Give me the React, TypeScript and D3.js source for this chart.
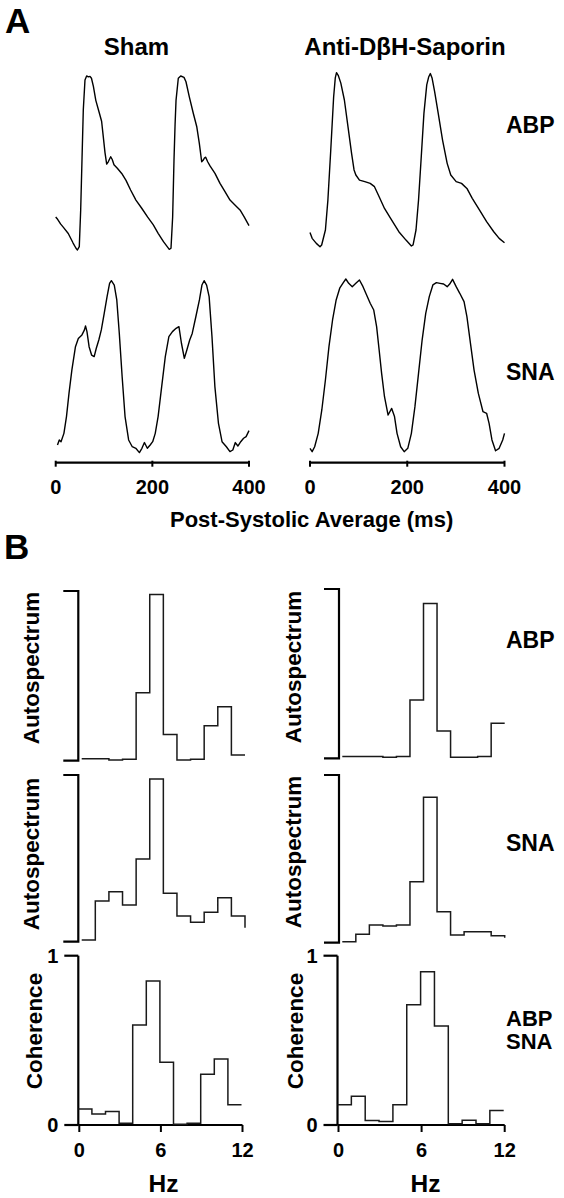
import React from 'react';
import * as d3 from 'd3';

// ---------- Panel A: post-systolic averaged traces (t in ms, arbitrary units 0-100) ----------
const shamABP: [number, number][] = [
  [0, 19], [3, 18], [10, 15], [16, 13], [26, 9.5], [36, 4], [42, 1], [45, 0], [48.8, 1.9], [51.7, 23],
  [54.4, 51.7], [57.1, 80.5], [60.6, 97.7], [64, 100], [68, 99.5], [71, 99.8], [74, 98.7], [78, 94],
  [83, 86], [90, 79], [95, 74], [98.5, 65], [102, 56], [105.5, 49.4], [108.8, 50.7], [111, 52],
  [113.8, 53.6], [117, 52], [120.6, 49], [127.5, 47], [136.6, 44], [145.5, 40], [155, 34.5],
  [166, 28.7], [178, 24], [190, 19], [202, 14.4], [212, 9.6], [223, 4.8], [235, 0.4], [238.6, 1],
  [242, 19], [244.8, 51.7], [247, 72], [249, 86], [253.7, 98.7], [258.7, 100], [265.5, 99.2],
  [269.6, 96.7], [276.5, 88], [284.7, 78.6], [291.8, 71], [297.2, 61.3], [302.1, 50.7], [305.4, 51.7],
  [308, 53], [310.4, 53.3], [314.5, 50.7], [319.3, 48.3], [329.6, 44], [340, 38.3], [350.3, 33.5],
  [360.7, 28.7], [374.5, 24.9], [381.4, 23], [390, 19], [400, 14],
];

const dbhABP: [number, number][] = [
  [0, 8.2], [4.4, 4.8], [13, 1.9], [20.6, 0], [24, 1], [31.7, 9.6], [36.8, 26.8], [42.7, 55.6],
  [48.6, 86], [52, 97], [54.5, 100], [58, 98.5], [63.4, 94], [70.7, 84.3], [78.1, 69], [85.5, 53.6],
  [90.6, 44.1], [94.3, 41.2], [101.7, 38.3], [112.7, 37.4], [123.8, 36.4], [132.6, 34.5], [142.2, 28.7],
  [153.2, 22], [168, 15.3], [182.7, 8.6], [197.4, 3.8], [208.5, 0.4], [212, 1], [218, 9.6],
  [223.2, 26.8], [228.4, 49.8], [234.3, 76.6], [240.1, 93], [244, 97.5], [247.5, 99.5], [251, 97],
  [256.4, 89], [263.7, 76.6], [272.6, 61.3], [282.1, 47.9], [289.5, 41.2], [300.6, 37.4],
  [311.6, 36.4], [322.7, 33.5], [333.7, 27.8], [348.4, 21.1], [363.2, 14.4], [377.9, 8.6],
  [389, 4.8], [400, 2.3],
];

const shamSNA: [number, number][] = [
  [3.7, 4.8], [7.4, 7.7], [11, 6.7], [17, 11.5], [22.3, 21.2], [27.5, 34.6], [33.5, 48.1], [40.9, 61.5],
  [46.8, 66.3], [54.3, 68.3], [59.5, 71.2], [61.7, 73.5], [64.7, 70.2], [69.1, 61.5], [74.3, 56.7],
  [79.6, 55.8], [84, 60.6], [89.2, 65.4], [94.4, 71.2], [100.4, 80.8], [106.3, 90.4], [111.5, 98.1],
  [115.2, 99.6], [121.2, 97.1], [126.4, 88.5], [131.6, 69.2], [137.5, 44.2], [143.5, 21.2],
  [150.9, 7.7], [158.4, 3.8], [165.8, 2.9], [173.2, 0.4], [178.4, 2.9], [183.6, 6.2], [189.6, 2.9],
  [195.5, 4.8], [200.7, 6.7], [206, 11.5], [211.9, 21.2], [219.3, 38.5], [226.8, 55.8], [234.2, 67.3],
  [241.6, 70.2], [249.1, 72.1], [255, 73.1], [260.2, 63.5], [266.2, 54.8], [271.4, 59.6],
  [277.3, 65.4], [282.5, 69.2], [290, 78.8], [297.4, 88.5], [302.6, 97.1], [307.1, 99.6],
  [312.3, 97.1], [317.5, 90.4], [323.4, 67.3], [329.4, 38.5], [336.8, 17.3], [344.2, 6.7],
  [353.2, 3.8], [360.6, 1], [366.5, 1.9], [371.7, 6.2], [377, 4.2], [382.9, 6.7], [388.8, 8.7],
  [394, 9.6], [400, 13.1],
];

const dbhSNA: [number, number][] = [
  [0, 2.5], [4.4, 0.6], [9.6, 3.4], [16.9, 11.1], [24.3, 24.5], [31.7, 41.7], [39, 60.8], [46.4, 76.1],
  [53.8, 87.6], [61.1, 94.3], [68.5, 97.5], [73.7, 99.6], [79.6, 97.1], [86.9, 95.2], [94.3, 97.1],
  [101.7, 99], [109, 95.2], [116.4, 90.4], [123.8, 85.7], [131.1, 81.8], [137, 72.3], [142.2, 58.9],
  [147.3, 45.5], [153.2, 32.1], [160.6, 21.6], [168, 25.4], [173.8, 20.7], [179, 11.1], [186.4, 3.4],
  [193.7, 0.6], [201.1, 2.5], [208.5, 11.1], [215.8, 26.4], [223.2, 45.5], [230.6, 64.6], [238, 79.9],
  [245.3, 89.5], [252.7, 96.2], [260, 97.5], [267.4, 97.1], [274.8, 96.7], [282.1, 95.2],
  [287.3, 96.7], [293.2, 99.4], [300.6, 95.2], [308, 91.4], [316.8, 86.6], [322.7, 78], [330, 62.7],
  [337.4, 47.4], [346.2, 34], [355.8, 23.5], [363.2, 22.6], [368.3, 16.8], [374.2, 7.3], [381.6, 1.1],
  [389, 2.5], [396.3, 7.3], [400, 11.1],
];

const msTicks = [0, 200, 400];

// ---------- Panel B: spectra, 1-Hz bins from 0 to 12 Hz ----------
const freqEdges = [0, 1, 2, 3, 4, 5, 6, 7, 8, 9, 10, 11, 12];
const shamAbpSpec = [0.012, 0.012, 0.004, 0.008, 0.401, 0.98, 0.155, 0.004, 0.008, 0.206, 0.318, 0.033];
const shamAbpEnd = 0.033;
const shamSnaSpec = [0.01, 0.244, 0.3, 0.22, 0.496, 0.976, 0.29, 0.154, 0.116, 0.176, 0.264, 0.154];
const shamSnaEnd = 0.084;
const shamCoh = [0.094, 0.065, 0.08, 0.01, 0.59, 0.85, 0.37, 0.004, 0.01, 0.3, 0.39, 0.12];
const shamCohEnd = 0.12;
const dbhAbpSpec = [0.01, 0.01, 0.01, 0.006, 0.01, 0.344, 0.915, 0.161, 0.006, 0.006, 0.01, 0.207];
const dbhAbpEnd = 0.207;
const dbhSnaSpec = [0.006, 0.05, 0.105, 0.099, 0.105, 0.364, 0.867, 0.185, 0.046, 0.066, 0.066, 0.042];
const dbhSnaEnd = 0.03;
const dbhCoh = [0.12, 0.17, 0.026, 0.02, 0.12, 0.71, 0.905, 0.585, 0.008, 0.028, 0.008, 0.085];
const dbhCohEnd = 0.085;

const hzTicks = [0, 6, 12];
const cohTicks = [0, 1];

const FONT = "'Liberation Sans', Arial, Helvetica, sans-serif";

type Scale = d3.ScaleLinear<number, number>;

function Trace({ data, x, y }: { data: [number, number][]; x: Scale; y: Scale }) {
  const line = d3
    .line<[number, number]>()
    .x((d) => x(d[0]))
    .y((d) => y(d[1]))
    .curve(d3.curveLinear);
  return <path d={line(data) || ''} fill="none" stroke="#000" strokeWidth={1.4} strokeLinejoin="round" />;
}

function Hist({ values, end, x, y }: { values: number[]; end: number; x: Scale; y: Scale }) {
  const pts: [number, number][] = values.map((v, i) => [freqEdges[i], v]);
  pts.push([freqEdges[freqEdges.length - 1], end]);
  const line = d3
    .line<[number, number]>()
    .x((d) => x(d[0]))
    .y((d) => y(d[1]))
    .curve(d3.curveStepAfter);
  return <path d={line(pts) || ''} fill="none" stroke="#1a1a1a" strokeWidth={1.5} />;
}

function MsAxis({ x, yPos }: { x: Scale; yPos: number }) {
  return (
    <g>
      <line x1={x(0)} x2={x(400)} y1={yPos} y2={yPos} stroke="#000" strokeWidth={2.2} />
      {msTicks.map((t) => (
        <g key={t}>
          <line x1={x(t)} x2={x(t)} y1={yPos - 2} y2={yPos + 4} stroke="#000" strokeWidth={2} />
          <text x={x(t)} y={494} textAnchor="middle" fontSize={20} fontWeight="bold" fontFamily={FONT}>
            {t}
          </text>
        </g>
      ))}
    </g>
  );
}

function Bracket({ xPos, y }: { xPos: number; y: Scale }) {
  const top = y(1);
  const bot = y(0);
  return (
    <path
      d={`M${xPos - 15},${top} H${xPos} V${bot} H${xPos - 15}`}
      fill="none"
      stroke="#000"
      strokeWidth={2.2}
    />
  );
}

function CohAxes({ x, y, axisX }: { x: Scale; y: Scale; axisX: number }) {
  return (
    <g>
      <line x1={axisX} x2={axisX} y1={y(1)} y2={y(0)} stroke="#000" strokeWidth={2.2} />
      {cohTicks.map((t) => (
        <g key={t}>
          <line x1={axisX - 14} x2={axisX} y1={y(t)} y2={y(t)} stroke="#000" strokeWidth={2.2} />
          <text
            x={axisX - 20}
            y={y(t)}
            dy="0.36em"
            textAnchor="end"
            fontSize={20}
            fontWeight="bold"
            fontFamily={FONT}
          >
            {t}
          </text>
        </g>
      ))}
      <line x1={axisX} x2={x(12) + 1} y1={y(0)} y2={y(0)} stroke="#000" strokeWidth={2.2} />
      {hzTicks.map((t) => (
        <g key={t}>
          <line x1={x(t) + 1} x2={x(t) + 1} y1={y(0)} y2={y(0) + 7} stroke="#000" strokeWidth={2} />
          <text x={x(t) + 1} y={1157} textAnchor="middle" fontSize={20} fontWeight="bold" fontFamily={FONT}>
            {t}
          </text>
        </g>
      ))}
    </g>
  );
}

function VLabel({ x, y, text }: { x: number; y: number; text: string }) {
  return (
    <text
      transform={`translate(${x},${y}) rotate(-90)`}
      textAnchor="middle"
      fontSize={22.5}
      fontWeight="bold"
      fontFamily={FONT}
    >
      {text}
    </text>
  );
}

function Label({ x, y, text, size = 23, anchor = 'start' }: { x: number; y: number; text: string; size?: number; anchor?: string }) {
  return (
    <text x={x} y={y} fontSize={size} fontWeight="bold" fontFamily={FONT} textAnchor={anchor as any}>
      {text}
    </text>
  );
}

export default function App() {
  // Panel A scales
  const xL = d3.scaleLinear().domain([0, 400]).range([55.7, 249]);
  const xR = d3.scaleLinear().domain([0, 400]).range([310, 504.5]);
  const yAbpL = d3.scaleLinear().domain([0, 100]).range([250, 76]);
  const yAbpR = d3.scaleLinear().domain([0, 100]).range([246.7, 72.7]);
  const ySnaL = d3.scaleLinear().domain([0, 100]).range([453.3, 280]);
  const ySnaR = d3.scaleLinear().domain([0, 100]).range([452.7, 278.3]);

  // Panel B scales
  const xSpecL = d3.scaleLinear().domain([0, 12]).range([81.7, 245]);
  const xSpecR = d3.scaleLinear().domain([0, 12]).range([342.3, 504.7]);
  const xCohL = d3.scaleLinear().domain([0, 12]).range([78.3, 241.5]);
  const xCohR = d3.scaleLinear().domain([0, 12]).range([337.5, 503.7]);
  const yAbpSpecL = d3.scaleLinear().domain([0, 1]).range([760.7, 591]);
  const ySnaSpecL = d3.scaleLinear().domain([0, 1]).range([941.7, 775]);
  const yAbpSpecR = d3.scaleLinear().domain([0, 1]).range([758.3, 589]);
  const ySnaSpecR = d3.scaleLinear().domain([0, 1]).range([942.7, 775]);
  const yCoh = d3.scaleLinear().domain([0, 1]).range([1125, 955.7]);

  return (
    <svg
      width={564}
      height={1198}
      viewBox="0 0 564 1198"
      style={{ position: 'absolute', left: 0, top: 0, background: '#fff' }}
    >
      <rect x={0} y={0} width={564} height={1198} fill="#fff" />

      {/* Panel A */}
      <Label x={5} y={33} text="A" size={35} />
      <Label x={136.5} y={55} text="Sham" size={24} anchor="middle" />
      <Label x={405} y={55} text="Anti-DβH-Saporin" size={24} anchor="middle" />
      <Label x={506} y={133} text="ABP" />
      <Label x={506} y={380} text="SNA" />

      <Trace data={shamABP} x={xL} y={yAbpL} />
      <Trace data={dbhABP} x={xR} y={yAbpR} />
      <Trace data={shamSNA} x={xL} y={ySnaL} />
      <Trace data={dbhSNA} x={xR} y={ySnaR} />

      <MsAxis x={xL} yPos={462.7} />
      <MsAxis x={xR} yPos={462.7} />
      <Label x={311.6} y={527} text="Post-Systolic Average (ms)" size={22} anchor="middle" />

      {/* Panel B */}
      <Label x={4} y={559} text="B" size={35} />

      <VLabel x={39} y={668} text="Autospectrum" />
      <VLabel x={39} y={854} text="Autospectrum" />
      <VLabel x={42} y={1031} text="Coherence" />
      <VLabel x={301} y={667} text="Autospectrum" />
      <VLabel x={301} y={852} text="Autospectrum" />
      <VLabel x={303} y={1031} text="Coherence" />

      <Bracket xPos={78.3} y={yAbpSpecL} />
      <Bracket xPos={78.3} y={ySnaSpecL} />
      <Bracket xPos={339} y={yAbpSpecR} />
      <Bracket xPos={339} y={ySnaSpecR} />

      <Hist values={shamAbpSpec} end={shamAbpEnd} x={xSpecL} y={yAbpSpecL} />
      <Hist values={shamSnaSpec} end={shamSnaEnd} x={xSpecL} y={ySnaSpecL} />
      <Hist values={dbhAbpSpec} end={dbhAbpEnd} x={xSpecR} y={yAbpSpecR} />
      <Hist values={dbhSnaSpec} end={dbhSnaEnd} x={xSpecR} y={ySnaSpecR} />

      <CohAxes x={xCohL} y={yCoh} axisX={78.3} />
      <CohAxes x={xCohR} y={yCoh} axisX={337.5} />
      <Hist values={shamCoh} end={shamCohEnd} x={xCohL} y={yCoh} />
      <Hist values={dbhCoh} end={dbhCohEnd} x={xCohR} y={yCoh} />

      <Label x={506} y={648} text="ABP" />
      <Label x={506} y={851} text="SNA" />
      <Label x={506} y={1026} text="ABP" size={22} />
      <Label x={506} y={1049} text="SNA" size={22} />

      <Label x={163.5} y={1192} text="Hz" size={24.5} anchor="middle" />
      <Label x={425.5} y={1192} text="Hz" size={24.5} anchor="middle" />
    </svg>
  );
}
